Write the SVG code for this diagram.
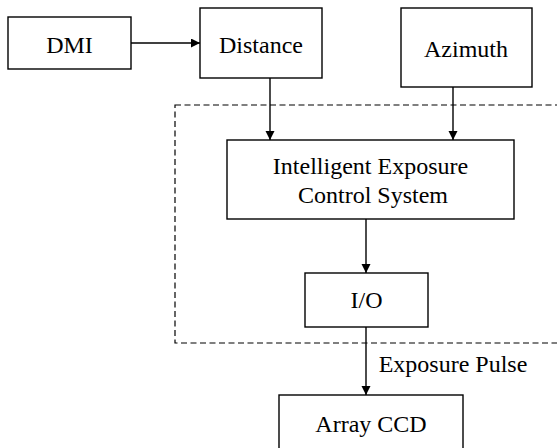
<svg xmlns="http://www.w3.org/2000/svg" width="557" height="448" viewBox="0 0 557 448">
<style>
.box{fill:#fff;stroke:#000;stroke-width:1.4}
.lbl{font-family:"Liberation Serif","Times New Roman",serif;font-size:24px;fill:#000;text-anchor:middle}
.conn{stroke:#000;stroke-width:1.4;fill:none;marker-end:url(#ah)}
.dash{fill:none;stroke:#000;stroke-width:1.2;stroke-dasharray:6,3.5}
</style>
<defs>
<marker id="ah" markerWidth="10" markerHeight="10" refX="9" refY="4.5" orient="auto" markerUnits="userSpaceOnUse">
<path d="M0,0 L9,4.5 L0,9 z" fill="#000"/>
</marker>
</defs>
<rect class="dash" x="175" y="105" width="400" height="238"/>
<g id="dmi"><rect class="box" x="8" y="17" width="123" height="52"/><text class="lbl" x="69.5" y="53">DMI</text></g>
<g id="distance"><rect class="box" x="200" y="8" width="122" height="70"/><text class="lbl" x="261" y="53">Distance</text></g>
<g id="azimuth"><rect class="box" x="401" y="8" width="131" height="79"/><text class="lbl" x="466" y="57">Azimuth</text></g>
<g id="iecs"><rect class="box" x="227" y="140" width="287" height="79"/><text class="lbl" x="370.5" y="174">Intelligent Exposure</text><text class="lbl" x="373" y="203">Control System</text></g>
<g id="io"><rect class="box" x="305" y="273" width="123" height="54"/><text class="lbl" x="366.5" y="308">I/O</text></g>
<g id="ccd"><rect class="box" x="279" y="395" width="184" height="60"/><text class="lbl" x="371" y="432">Array CCD</text></g>
<g id="connectors">
<line class="conn" x1="131" y1="43" x2="200" y2="43"/>
<line class="conn" x1="270" y1="78" x2="270" y2="140"/>
<line class="conn" x1="453" y1="87" x2="453" y2="140"/>
<line class="conn" x1="366" y1="219" x2="366" y2="273"/>
<line class="conn" x1="366" y1="327" x2="366" y2="395"/>
<text class="lbl" x="453" y="372">Exposure Pulse</text>
</g>
</svg>
